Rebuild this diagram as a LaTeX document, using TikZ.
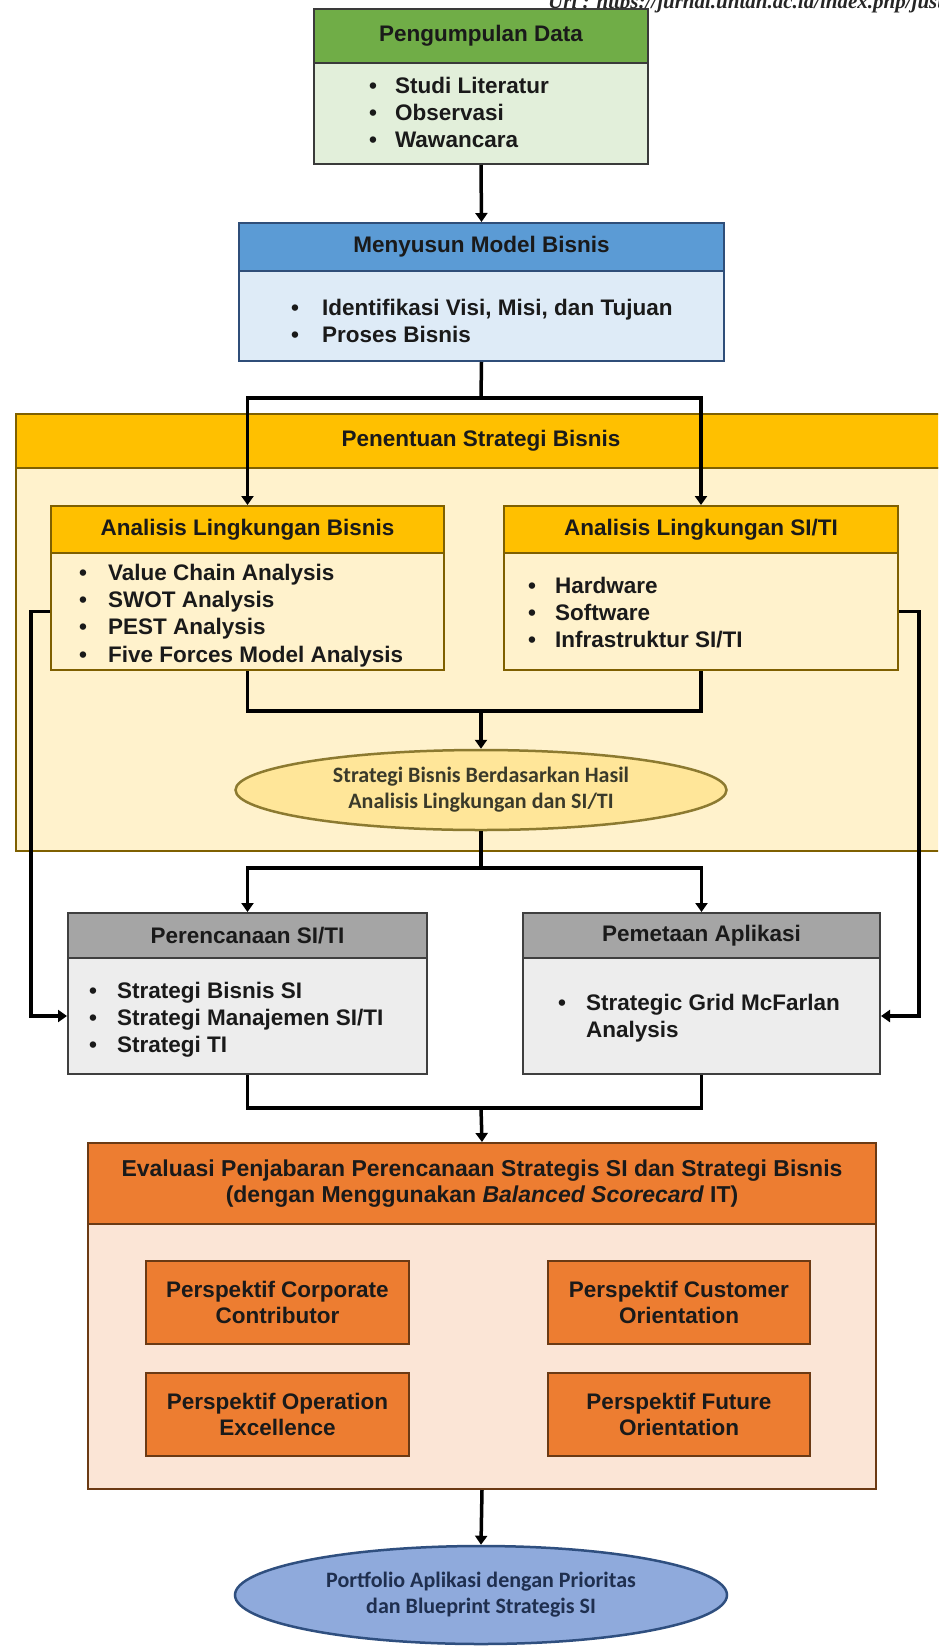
\documentclass[tikz,border=0pt]{standalone}
\usepackage{fontspec}
\setmainfont{Liberation Sans}
\newfontfamily\carlfam{Carlito}
\newfontfamily\seriffam{Liberation Serif}
\usetikzlibrary{arrows.meta,shapes.geometric}
\definecolor{cGH}{HTML}{70AD47}
\definecolor{cGB}{HTML}{E2EFDA}
\definecolor{cGD}{HTML}{3A3A3A}
\definecolor{cBH}{HTML}{5B9BD5}
\definecolor{cBB}{HTML}{DEEBF7}
\definecolor{cBD}{HTML}{2F4E79}
\definecolor{cYH}{HTML}{FFC000}
\definecolor{cYB}{HTML}{FFF2CC}
\definecolor{cYD}{HTML}{7F6000}
\definecolor{cRH}{HTML}{A5A5A5}
\definecolor{cRB}{HTML}{EDEDED}
\definecolor{cRD}{HTML}{3F3F3F}
\definecolor{cOH}{HTML}{ED7D31}
\definecolor{cOB}{HTML}{FBE5D6}
\definecolor{cOD}{HTML}{6B3A14}
\definecolor{cEaF}{HTML}{FFE699}
\definecolor{cEaD}{HTML}{8C7A30}
\definecolor{cEaT}{HTML}{3A3A2A}
\definecolor{cEbF}{HTML}{8FAADC}
\definecolor{cEbD}{HTML}{2F4F7F}
\definecolor{cEbT}{HTML}{1F2F4F}
\definecolor{cTxt}{HTML}{1A1A1A}
\newcommand{\myhfont}{\bfseries\fontsize{22.5}{26.5}\selectfont}
\newcommand{\myevfont}{\bfseries\fontsize{23}{26}\selectfont}
\newcommand{\myifont}{\bfseries\fontsize{22.5}{27.3}\selectfont}
\newcommand{\myefont}{\carlfam\bfseries\fontsize{22}{26}\selectfont}
\newcommand{\blist}[2]{\begin{tabular}{@{}l@{\hspace{#1pt}}l@{}}#2\end{tabular}}
\begin{document}
\begin{tikzpicture}[x=1pt,y=-1pt,
  hdr/.style={rectangle, anchor=north west, inner sep=0pt, line width=2pt, text=cTxt, font=\myhfont, align=center},
  bodyb/.style={rectangle, anchor=north west, inner sep=0pt, line width=2pt},
  lst/.style={anchor=north west, inner sep=0pt, text=cTxt, font=\myifont},
  persp/.style={rectangle, anchor=north west, inner sep=0pt, line width=2pt, fill=cOH, draw=cOD, text=cTxt, font=\myhfont, align=center, minimum height=83},
  ell/.style={ellipse, inner sep=0pt, line width=2.5pt, align=center, font=\myefont},
  ln/.style={line width=3.5pt, draw=black},
  arr/.style={line width=3.5pt, draw=black, -{Triangle[length=9pt,width=12pt]}}
]
\useasboundingbox (0,0) rectangle (938,1647);
\fill[white] (0,0) rectangle (938,1647);
\clip (0,0) rectangle (938,1647);

% cropped source line at the top
\node[anchor=base west, inner sep=0pt, text=black!85, font=\seriffam\bfseries\itshape\fontsize{21}{21}\selectfont] (url) at (548,8) {Url : https://jurnal.untan.ac.id/index.php/justin};

% Pengumpulan Data
\node[hdr, fill=cGH, draw=cGD, minimum width=334, minimum height=54] (gH) at (313,8) {Pengumpulan Data};
\node[bodyb, fill=cGB, draw=cGD, minimum width=334, minimum height=101] (gB) at (313,62) {};
\node[lst] (gL) at (369,73.9) {\blist{18}{\textbullet & Studi Literatur\\ \textbullet & Observasi\\ \textbullet & Wawancara}};

% Menyusun Model Bisnis
\node[hdr, fill=cBH, draw=cBD, minimum width=485, minimum height=48] (bH) at (238,222) {Menyusun Model Bisnis};
\node[bodyb, fill=cBB, draw=cBD, minimum width=485, minimum height=90] (bB) at (238,270) {};
\node[lst] (bL) at (291,295.9) {\blist{23}{\textbullet & Identifikasi Visi, Misi, dan Tujuan\\ \textbullet & Proses Bisnis}};

% Penentuan Strategi Bisnis (outer)
\node[hdr, fill=cYH, draw=cYD, minimum width=930, minimum height=54] (pH) at (15,413) {Penentuan Strategi Bisnis};
\node[bodyb, fill=cYB, draw=cYD, minimum width=930, minimum height=383] (pB) at (15,467) {};

% Analisis Lingkungan Bisnis
\node[hdr, fill=cYH, draw=cYD, minimum width=393, minimum height=47] (alH) at (50,505) {Analisis Lingkungan Bisnis};
\node[bodyb, fill=cYB, draw=cYD, minimum width=393, minimum height=117] (alB) at (50,552) {};
\node[lst] (alL) at (79,560.9) {\blist{21}{\textbullet & Value Chain Analysis\\ \textbullet & SWOT Analysis\\ \textbullet & PEST Analysis\\ \textbullet & Five Forces Model Analysis}};

% Analisis Lingkungan SI/TI
\node[hdr, fill=cYH, draw=cYD, minimum width=394, minimum height=47] (siH) at (503,505) {Analisis Lingkungan SI/TI};
\node[bodyb, fill=cYB, draw=cYD, minimum width=394, minimum height=117] (siB) at (503,552) {};
\node[lst] (siL) at (528,573.9) {\blist{19}{\textbullet & Hardware\\ \textbullet & Software\\ \textbullet & Infrastruktur SI/TI}};

% Strategi ellipse
\node[ell, fill=cEaF, draw=cEaD, text=cEaT, minimum width=491, minimum height=80] (e1) at (481,790) {Strategi Bisnis Berdasarkan Hasil\\Analisis Lingkungan dan SI/TI};

% Perencanaan SI/TI
\node[hdr, fill=cRH, draw=cRD, minimum width=359, minimum height=45] (perH) at (67,912) {Perencanaan SI/TI};
\node[bodyb, fill=cRB, draw=cRD, minimum width=359, minimum height=116] (perB) at (67,957) {};
\node[lst] (perL) at (89,978.9) {\blist{20}{\textbullet & Strategi Bisnis SI\\ \textbullet & Strategi Manajemen SI/TI\\ \textbullet & Strategi TI}};

% Pemetaan Aplikasi
\node[hdr, fill=cRH, draw=cRD, minimum width=357, minimum height=45] (pemH) at (522,912) {Pemetaan Aplikasi};
\node[bodyb, fill=cRB, draw=cRD, minimum width=357, minimum height=116] (pemB) at (522,957) {};
\node[lst] (pemL) at (558,990.9) {\blist{20}{\textbullet & Strategic Grid McFarlan\\ & Analysis}};

% Evaluasi
\node[hdr, fill=cOH, draw=cOD, minimum width=788, minimum height=81, font=\myevfont] (evH) at (87,1142) {Evaluasi Penjabaran Perencanaan Strategis SI dan Strategi Bisnis\\(dengan Menggunakan {\itshape Balanced Scorecard} IT)};
\node[bodyb, fill=cOB, draw=cOD, minimum width=788, minimum height=265] (evB) at (87,1223) {};
\node[persp, minimum width=263] (pcc) at (145,1260) {Perspektif Corporate\\Contributor};
\node[persp, minimum width=262] (pco) at (547,1260) {Perspektif Customer\\Orientation};
\node[persp, minimum width=263] (poe) at (145,1372) {Perspektif Operation\\Excellence};
\node[persp, minimum width=262] (pfo) at (547,1372) {Perspektif Future\\Orientation};

% Portfolio ellipse
\node[ell, fill=cEbF, draw=cEbD, text=cEbT, minimum width=492, minimum height=98] (e2) at (481,1595) {Portfolio Aplikasi dengan Prioritas\\dan Blueprint Strategis SI};

% connectors
\coordinate (s1) at (481,398);
\coordinate (m1) at (481,711);
\coordinate (m2) at (481,868);
\coordinate (m3) at (481,1108);

\draw[arr] (gB.south) -- (bH.north);
\draw[ln] (bB.south) -- (s1);
\draw[arr] (s1) -| (alH.north);
\draw[arr] (s1) -| (siH.north);
\draw[arr] (alB.west) -- ++(-19,0) |- (perB.west);
\draw[arr] (siB.east) -- ++(20,0) |- (pemB.east);
\draw[ln] (alB.south) |- (m1);
\draw[ln] (siB.south) |- (m1);
\draw[arr] (m1) -- (e1.north);
\draw[ln] (e1.south) -- (m2);
\draw[arr] (m2) -| (perH.north);
\draw[arr] (m2) -| (pemH.north);
\draw[ln] (perB.south) |- (m3);
\draw[ln] (pemB.south) |- (m3);
\draw[arr] (m3) -- (evH.north);
\draw[arr] (evB.south) -- (e2.north);
\end{tikzpicture}
\end{document}
